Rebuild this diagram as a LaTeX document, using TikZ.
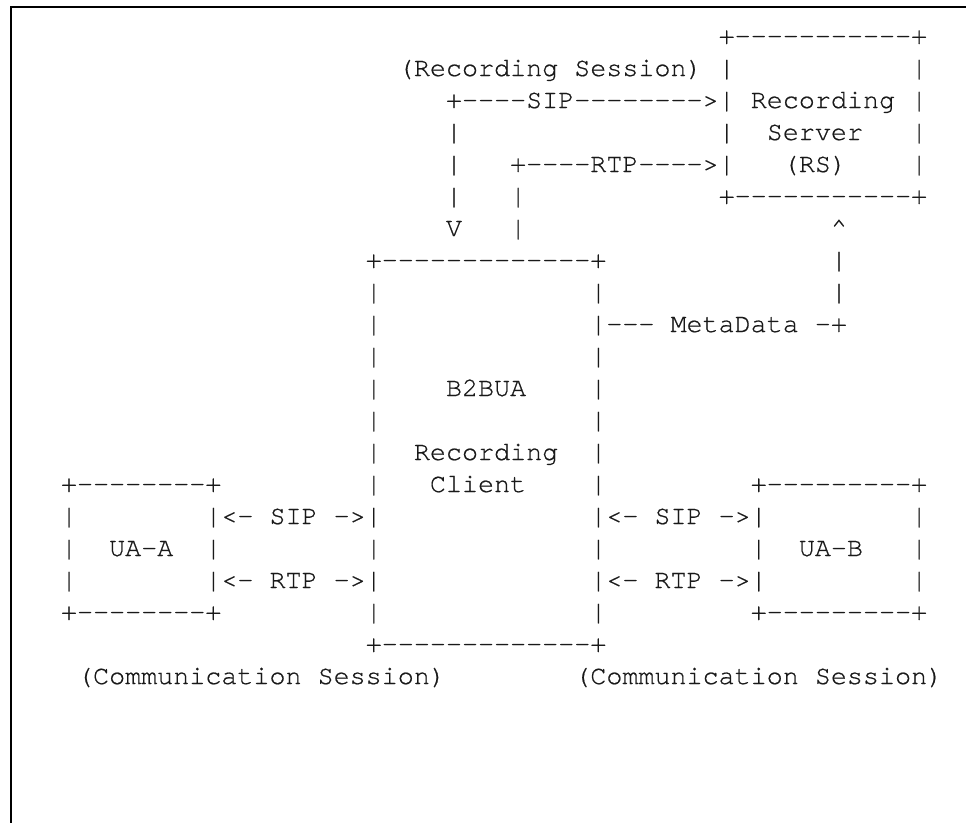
\documentclass[tikz,border=0pt]{standalone}
\usepackage{fontspec}
\setmonofont{TeX Gyre Cursor}[FakeBold=0.6]
\tikzset{
  x=1pt, y=1pt,
  txt/.style={anchor=base west, inner sep=0pt, outer sep=0pt,
    font=\ttfamily\fontsize{26.73}{32}\selectfont, text=black!90},
  frame/.style={line width=2pt, draw=black}
}
% \ach{name}{column}{row}{text}
\newcommand\ach[4]{\node[txt] (#1) at ({12.9+#2*16.04},{-(44+32*#3)}) {#4};}
\begin{document}
\begin{tikzpicture}
\useasboundingbox (0,0) rectangle (966,-822);
\coordinate (fb) at (11,-830);
\coordinate (fc) at (11,-7);
\coordinate (fr) at (970,-7);
\draw[frame] (fb) -- (fc) -- (fr);
% row 0
\ach{rsTop}{44}{0}{+-----------+}
% row 1
\ach{recSess}{24}{1}{(Recording Session)}
\ach{rsL1}{44}{1}{|}
\ach{rsR1}{56}{1}{|}
% row 2
\ach{sipRS}{27}{2}{+----SIP-------->|}
\ach{rsName1}{46}{2}{Recording}
\ach{rsR2}{56}{2}{|}
% row 3
\ach{sipV3}{27}{3}{|}
\ach{rsL3}{44}{3}{|}
\ach{rsName2}{47}{3}{Server}
\ach{rsR3}{56}{3}{|}
% row 4
\ach{sipV4}{27}{4}{|}
\ach{rtpRS}{31}{4}{+----RTP---->|}
\ach{rsName3}{48}{4}{(RS)}
\ach{rsR4}{56}{4}{|}
% row 5
\ach{sipV5}{27}{5}{|}
\ach{rtpV5}{31}{5}{|}
\ach{rsBot}{44}{5}{+-----------+}
% row 6
\ach{sipArr}{27}{6}{V}
\ach{rtpV6}{31}{6}{|}
\ach{mdArr}{51}{6}{\textasciicircum}
% row 7
\ach{bTop}{22}{7}{+-------------+}
\ach{mdV7}{51}{7}{|}
% row 8
\ach{bL8}{22}{8}{|}
\ach{bR8}{36}{8}{|}
\ach{mdV8}{51}{8}{|}
% row 9
\ach{bL9}{22}{9}{|}
\ach{meta}{36}{9}{|--- MetaData -+}
% row 10
\ach{bL10}{22}{10}{|}
\ach{bR10}{36}{10}{|}
% row 11
\ach{bL11}{22}{11}{|}
\ach{bName1}{27}{11}{B2BUA}
\ach{bR11}{36}{11}{|}
% row 12
\ach{bL12}{22}{12}{|}
\ach{bR12}{36}{12}{|}
% row 13
\ach{bL13}{22}{13}{|}
\ach{bName2}{25}{13}{Recording}
\ach{bR13}{36}{13}{|}
% row 14
\ach{uaATop}{3}{14}{+--------+}
\ach{bL14}{22}{14}{|}
\ach{bName3}{26}{14}{Client}
\ach{bR14}{36}{14}{|}
\ach{uaBTop}{46}{14}{+---------+}
% row 15
\ach{uaAL15}{3}{15}{|}
\ach{sipA}{12}{15}{|<- SIP ->|}
\ach{sipB}{36}{15}{|<- SIP ->|}
\ach{uaBR15}{56}{15}{|}
% row 16
\ach{uaAL16}{3}{16}{|}
\ach{uaAName}{6}{16}{UA-A}
\ach{uaAR16}{12}{16}{|}
\ach{bL16}{22}{16}{|}
\ach{bR16}{36}{16}{|}
\ach{uaBL16}{46}{16}{|}
\ach{uaBName}{49}{16}{UA-B}
\ach{uaBR16}{56}{16}{|}
% row 17
\ach{uaAL17}{3}{17}{|}
\ach{rtpA}{12}{17}{|<- RTP ->|}
\ach{rtpB}{36}{17}{|<- RTP ->|}
\ach{uaBR17}{56}{17}{|}
% row 18
\ach{uaABot}{3}{18}{+--------+}
\ach{bL18}{22}{18}{|}
\ach{bR18}{36}{18}{|}
\ach{uaBBot}{46}{18}{+---------+}
% row 19
\ach{bBot}{22}{19}{+-------------+}
% row 20
\ach{commA}{4}{20}{(Communication Session)}
\ach{commB}{35}{20}{(Communication Session)}
\end{tikzpicture}
\end{document}
